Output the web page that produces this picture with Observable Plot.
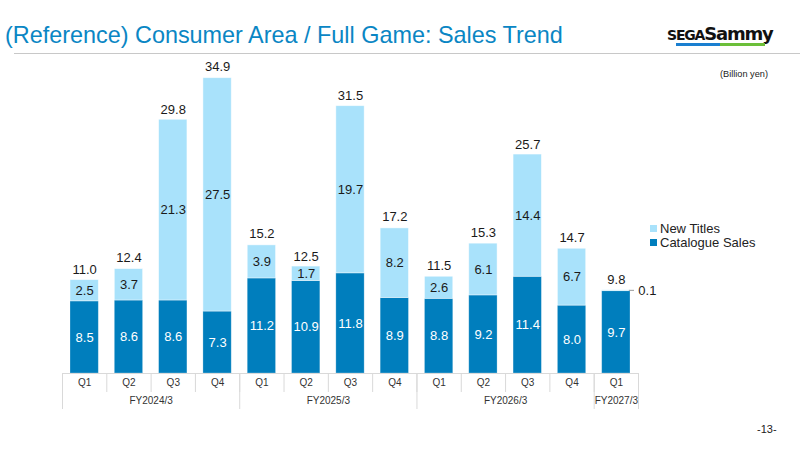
<!DOCTYPE html>
<html><head><meta charset="utf-8">
<script src="https://cdn.jsdelivr.net/npm/d3@7"></script>
<script src="https://cdn.jsdelivr.net/npm/@observablehq/plot@0.6"></script>
<style>
body{margin:0;background:#fff;font-family:"Liberation Sans",Arial,sans-serif;}
#page{position:relative;width:800px;height:450px;overflow:hidden;background:#fff;}
#title{position:absolute;left:5px;top:21px;font-size:23.4px;line-height:28px;color:#0a86c4;white-space:nowrap;}
#hr{position:absolute;left:14px;right:0;top:53px;height:1px;background:#c8c8c8;}
#logo{position:absolute;left:667px;top:24px;width:112px;height:24px;}
#logo .txt{position:absolute;left:0;top:0;font-weight:bold;color:#111;white-space:nowrap;letter-spacing:-1.2px;line-height:20px;font-family:"DejaVu Sans",sans-serif;}
#logo .b{position:absolute;left:9px;top:19px;width:44px;height:3px;background:#1a7fd0;}
#logo .g{position:absolute;left:53px;top:19px;width:45px;height:3px;background:#6cbf3a;}
#unit{position:absolute;left:720px;top:69px;font-size:9.2px;color:#222;}
#page-no{position:absolute;left:757px;top:423px;font-size:11px;color:#222;}
#legend{position:absolute;left:650px;top:222px;font-size:13px;color:#222;line-height:13.5px;}
#legend div{display:flex;align-items:center;height:13.5px;}
#legend span.sw{display:inline-block;width:7px;height:7px;margin-right:3px;}
#chart{position:absolute;left:0;top:56px;}
</style></head>
<body>
<div id="page">
  <div id="title">(Reference) Consumer Area / Full Game: Sales Trend</div>
  <div id="hr"></div>
  <div id="logo"><div class="txt"><span style="font-size:14px">SEGA</span><span style="font-size:18px">Sammy</span></div><div class="b"></div><div class="g"></div></div>
  <div id="unit">(Billion yen)</div>
  <div id="legend">
    <div><span class="sw" style="background:#a9e2fb"></span>New Titles</div>
    <div><span class="sw" style="background:#007ebd"></span>Catalogue Sales</div>
  </div>
  <div id="chart"></div>
  <div id="page-no">-13-</div>
</div>
<script>
const quarters = ["Q1","Q2","Q3","Q4","Q1","Q2","Q3","Q4","Q1","Q2","Q3","Q4","Q1"];
const fiscalYears = ["FY2024/3","FY2025/3","FY2026/3","FY2027/3"];
const quartersPerYear = [4, 4, 4, 1];
const catalogueSales = [8.5, 8.6, 8.6, 7.3, 11.2, 10.9, 11.8, 8.9, 8.8, 9.2, 11.4, 8.0, 9.7];
const newTitles = [2.5, 3.7, 21.3, 27.5, 3.9, 1.7, 19.7, 8.2, 2.6, 6.1, 14.4, 6.7, 0.1];
const totals = [11.0, 12.4, 29.8, 34.9, 15.2, 12.5, 31.5, 17.2, 11.5, 15.3, 25.7, 14.7, 9.8];

const darkBlue = "#007ebd", lightBlue = "#a9e2fb", gridGray = "#d9d9d9";

const rows = quarters.map((q, i) => ({
  i, q, cat: catalogueSales[i], nw: newTitles[i], total: totals[i]
}));

// fiscal-year groups (start index, count)
const groups = [];
let start = 0;
fiscalYears.forEach((fy, k) => { groups.push({fy, start, n: quartersPerYear[k]}); start += quartersPerYear[k]; });
const qBoundaries = d3.range(quarters.length + 1).map(i => i - 0.5);
const fyBoundaries = groups.map(g => g.start - 0.5).concat([quarters.length - 0.5]);

const W = 800, H = 394, mt = 20, mb = 77, ml = 62, mr = 162;
const frameH = H - mt - mb;

const chart = Plot.plot({
  width: W, height: H,
  marginTop: mt, marginBottom: mb, marginLeft: ml, marginRight: mr,
  style: {fontFamily: "Liberation Sans, Arial, sans-serif", background: "transparent"},
  x: {domain: [-0.5, quarters.length - 0.5], axis: null},
  y: {domain: [0, 35], axis: null},
  marks: [
    Plot.rectY(rows, {x1: d => d.i - 0.5, x2: d => d.i + 0.5, y1: 0, y2: "cat", fill: darkBlue, insetLeft: 8, insetRight: 8, stroke: "#ffffff", strokeOpacity: 0.35, strokeWidth: 0.75}),
    Plot.rectY(rows, {x1: d => d.i - 0.5, x2: d => d.i + 0.5, y1: "cat", y2: d => d.cat + d.nw, fill: lightBlue, insetLeft: 8, insetRight: 8, stroke: "#ffffff", strokeOpacity: 0.6, strokeWidth: 0.75}),
    Plot.ruleY([0], {stroke: gridGray, strokeWidth: 1}),
    Plot.ruleX(qBoundaries, {x: d => d, stroke: gridGray, insetTop: frameH, insetBottom: -19}),
    Plot.ruleX(fyBoundaries, {x: d => d, stroke: gridGray, insetTop: frameH, insetBottom: -36}),
    Plot.text(rows, {x: "i", text: "q", frameAnchor: "bottom", dy: 12.5, fontSize: 10, fill: "#333"}),
    Plot.text(groups, {x: g => g.start + (g.n - 1) / 2, text: "fy", frameAnchor: "bottom", dy: 30, fontSize: 10, fill: "#333"}),
    Plot.text(rows, {x: "i", y: "total", text: d => d.total.toFixed(1), dy: -10.5, fontSize: 13, fill: "#1a1a1a"}),
    Plot.text(rows, {x: "i", y: d => d.cat / 2, text: d => d.cat.toFixed(1), fontSize: 13, fill: "#ffffff"}),
    Plot.text(rows.filter(d => d.nw >= 1), {x: "i", y: d => d.cat + d.nw / 2, text: d => d.nw.toFixed(1), fontSize: 13, fill: "#1a1a1a"}),
    Plot.ruleY(rows.filter(d => d.nw < 1), {y: "total", x1: "i", x2: d => d.i + 0.5, insetLeft: 13, insetRight: 4, stroke: "#999"}),
    Plot.text(rows.filter(d => d.nw < 1), {x: "i", y: "total", text: d => d.nw.toFixed(1), textAnchor: "start", dx: 22, fontSize: 13, fill: "#1a1a1a"})
  ]
});
document.getElementById("chart").appendChild(chart);
</script>
</body></html>
